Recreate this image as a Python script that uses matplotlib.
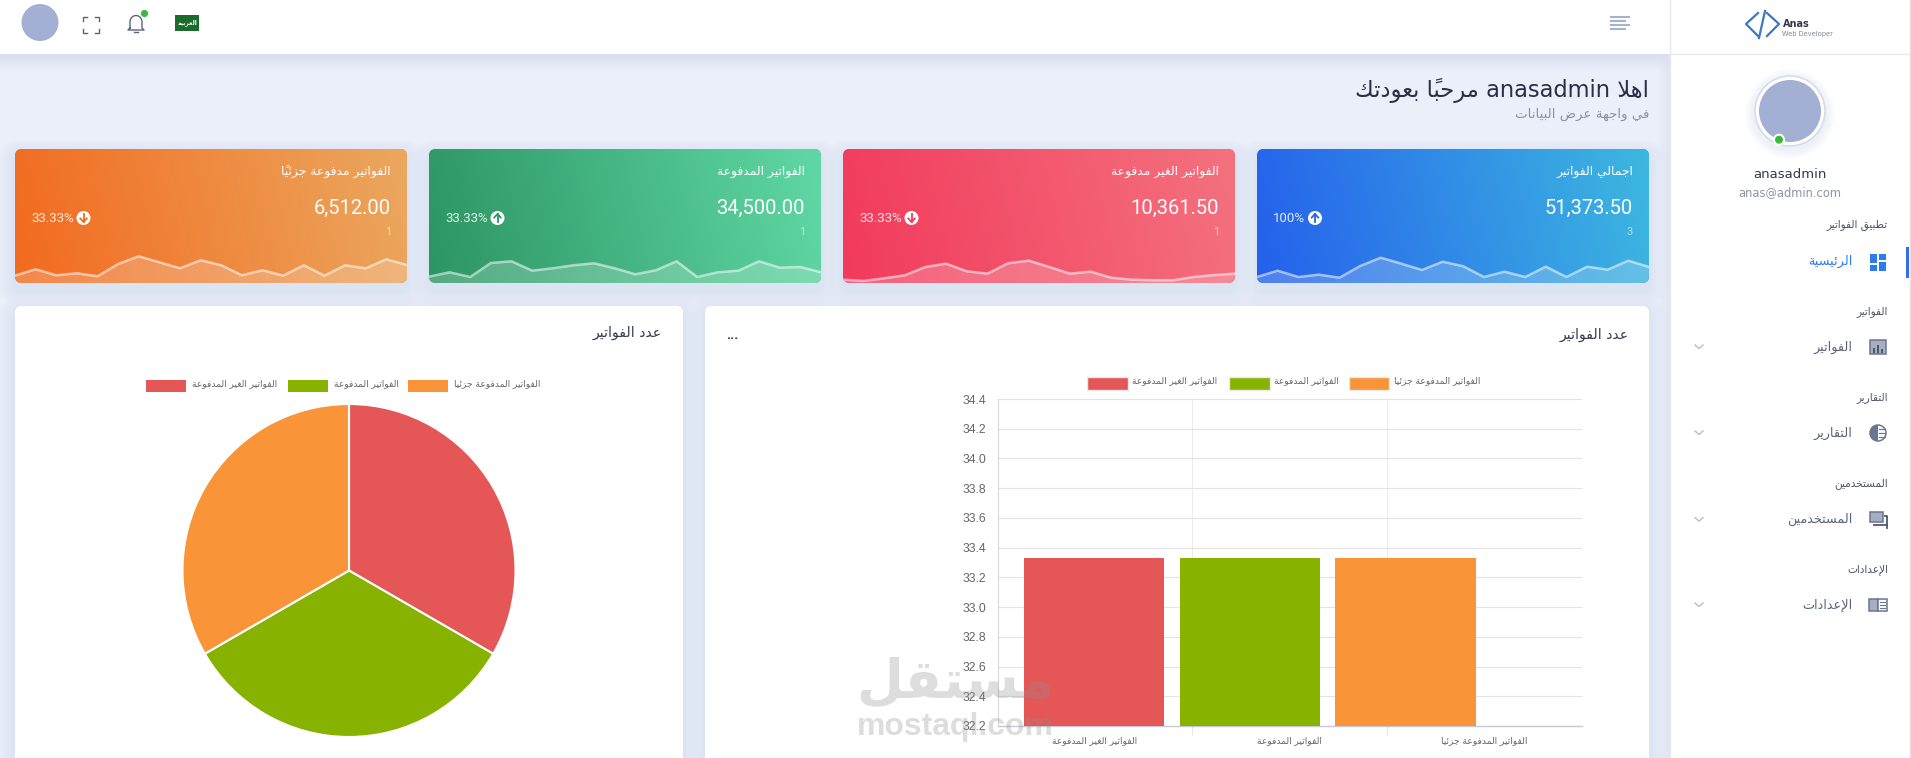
import re
import numpy as np
import matplotlib
matplotlib.use("Agg")
import matplotlib.pyplot as plt
from matplotlib.patches import FancyBboxPatch, Circle, Rectangle, Wedge
from matplotlib.colors import to_rgb

W, H = 1911, 758

# chart data
categories = ["الفواتير الغير المدفوعة", "الفواتير المدفوعة", "الفواتير المدفوعة جزئيا"]
bar_values = [33.33, 33.33, 33.33]
pie_values = [33.33, 33.33, 33.33]
chart_colors = ["#e55757", "#87b300", "#f99538"]
y_ticks = [32.2, 32.4, 32.6, 32.8, 33.0, 33.2, 33.4, 33.6, 33.8, 34.0, 34.2, 34.4]

# summary cards, right to left on the page
card_titles = ["اجمالي الفواتير", "الفواتير الغير مدفوعة", "الفواتير المدفوعة", "الفواتير مدفوعة جزئياً"]
card_amounts = ["51,373.50", "10,361.50", "34,500.00", "6,512.00"]
card_counts = ["3", "1", "1", "1"]
card_percents = ["100%", "33.33%", "33.33%", "33.33%"]
card_up = [True, False, True, False]
spark_blue = [6, 12.3, 6, 8.3, 5.3, 17, 25.3, 19.3, 13, 21.3, 16.7, 6, 11.3, 6, 16.3, 6, 16.3, 13.3, 22.3, 16]
spark_red = [3.3, 2, 4.7, 7.7, 16, 19.3, 11.7, 9.3, 19.7, 22.3, 16, 9.3, 11.3, 5.3, 3.3, 2.7, 2.7, 6, 8, 9.3]
spark_green = [6.3, 10.7, 6, 20, 21.7, 12.3, 14.7, 17.7, 19.7, 14.7, 8.7, 12.7, 21.7, 6, 10.7, 12.3, 21.7, 15.3, 16, 10.7]
spark_orange = [7.3, 13.7, 7.7, 9.7, 6.7, 19, 26.7, 20.7, 14.7, 22.7, 17.7, 7.7, 12.7, 7.3, 17.7, 7.3, 17.7, 14.7, 23.7, 18]
card_sparks = [spark_blue, spark_red, spark_green, spark_orange]

menu_sections = ["تطبيق الفواتير", "الفواتير", "التقارير", "المستخدمين", "الإعدادات"]
menu_items = ["الرئيسية", "الفواتير", "التقارير", "المستخدمين", "الإعدادات"]

# matplotlib does no arabic shaping, so pick the presentation forms by hand
FORMS = {"ء": (0xFE80, 1), "آ": (0xFE81, 2), "أ": (0xFE83, 2), "ؤ": (0xFE85, 2), "إ": (0xFE87, 2),
         "ئ": (0xFE89, 4), "ا": (0xFE8D, 2), "ب": (0xFE8F, 4), "ة": (0xFE93, 2), "ت": (0xFE95, 4),
         "ث": (0xFE99, 4), "ج": (0xFE9D, 4), "ح": (0xFEA1, 4), "خ": (0xFEA5, 4), "د": (0xFEA9, 2),
         "ذ": (0xFEAB, 2), "ر": (0xFEAD, 2), "ز": (0xFEAF, 2), "س": (0xFEB1, 4), "ش": (0xFEB5, 4),
         "ص": (0xFEB9, 4), "ض": (0xFEBD, 4), "ط": (0xFEC1, 4), "ظ": (0xFEC5, 4), "ع": (0xFEC9, 4),
         "غ": (0xFECD, 4), "ف": (0xFED1, 4), "ق": (0xFED5, 4), "ك": (0xFED9, 4), "ل": (0xFEDD, 4),
         "م": (0xFEE1, 4), "ن": (0xFEE5, 4), "ه": (0xFEE9, 4), "و": (0xFEED, 2), "ى": (0xFEEF, 2),
         "ي": (0xFEF1, 4)}
LAM_ALEF = {"ا": 0xFEFB, "أ": 0xFEF7, "إ": 0xFEF9, "آ": 0xFEF5}
MARKS = "\u064b\u064c\u064d\u064e\u064f\u0650\u0651\u0652"


def ar(text):
    # group base letters with their marks
    clusters = []
    for ch in text:
        if ch in MARKS and clusters:
            clusters[-1][1] += ch
        else:
            clusters.append([ch, ""])
    out = []
    i = 0
    joined_prev = False
    while i < len(clusters):
        ch, marks = clusters[i]
        nxt = clusters[i + 1][0] if i + 1 < len(clusters) else ""
        if ch not in FORMS:
            out.append(ch + marks)
            joined_prev = False
            i += 1
            continue
        if ch == "ل" and nxt in LAM_ALEF:
            code = LAM_ALEF[nxt] + (1 if joined_prev else 0)
            out.append(chr(code) + clusters[i + 1][1])
            joined_prev = False
            i += 2
            continue
        base, n = FORMS[ch]
        joins_next = n == 4 and nxt in FORMS
        if n == 1:
            code = base
        elif n == 2:
            code = base + (1 if joined_prev else 0)
        elif joined_prev and joins_next:
            code = base + 3
        elif joins_next:
            code = base + 2
        elif joined_prev:
            code = base + 1
        else:
            code = base
        out.append(chr(code) + marks)
        joined_prev = n == 4
        i += 1
    # visual order, latin runs keep their direction
    res = []
    run = []
    for c in out[::-1]:
        if re.match(r"[A-Za-z0-9@.]", c):
            run.append(c)
        else:
            res.extend(run[::-1])
            run = []
            res.append(c)
    res.extend(run[::-1])
    return "".join(res)


def px_axes(x0, y0, x1, y1, **kw):
    return fig.add_axes([x0 / W, 1 - y1 / H, (x1 - x0) / W, (y1 - y0) / H], **kw)


def rbox(ax, x0, y0, x1, y1, r, **kw):
    p = FancyBboxPatch((x0, y0), x1 - x0, y1 - y0, boxstyle=f"round,pad=0,rounding_size={r}", linewidth=0, **kw)
    ax.add_patch(p)
    return p


def shadow(ax, x0, y0, x1, y1, r, spread=16, dy=7, alpha=0.008):
    for s in range(spread, 0, -2):
        rbox(ax, x0 - s, y0 - s + dy, x1 + s, y1 + s + dy, r + s, facecolor="#5a6a9c", alpha=alpha, zorder=1)


def gradient(ax, x0, y0, x1, y1, left, right, clip):
    xx, yy = np.meshgrid(np.linspace(0, 1, 200), np.linspace(0, 1, 60))
    t = (0.93 * xx + 0.07 * (1 - yy))[..., None]
    img = np.array(to_rgb(left)) * (1 - t) + np.array(to_rgb(right)) * t
    im = ax.imshow(img, extent=(x0, x1, y1, y0), aspect="auto", zorder=2)
    im.set_clip_path(clip)


def atext(ax, x, y, s, size, color, ha="right", bold=False, **kw):
    ax.text(x, y, ar(s), fontsize=size, color=color, ha=ha, va="center", family="DejaVu Sans",
            fontweight="bold" if bold else "normal", **kw)


def ltext(ax, x, y, s, size, color, ha="right", family="Roboto", **kw):
    ax.text(x, y, s, fontsize=size, color=color, ha=ha, va="center", family=family, **kw)


fig = plt.figure(figsize=(W / 100, H / 100), dpi=100, facecolor="#ebeffa")

bg = px_axes(0, 0, W, H, zorder=0)
bg.set_xlim(0, W)
bg.set_ylim(H, 0)
bg.axis("off")

# top bar shadow and side bar shadow
for k in range(16):
    bg.add_patch(Rectangle((0, 54 + k), 1670, 1, color="#d9deee", alpha=1 - k / 16, lw=0, zorder=0.5))
for k in range(12):
    bg.add_patch(Rectangle((1670 - k - 1, 54), 1, H - 54, color="#dde2f0", alpha=0.8 * (1 - k / 12), lw=0, zorder=0.5))

bg.add_patch(Rectangle((0, 0), 1670, 54, color="white", lw=0, zorder=3))
bg.add_patch(Rectangle((1670, 0), W - 1670, H, color="white", lw=0, zorder=3))
bg.plot([1670, 1670], [0, H], color="#e8eaf3", lw=1, zorder=4)
bg.plot([1670, W], [54, 54], color="#e8eaf3", lw=1, zorder=4)
bg.plot([1910, 1910], [0, H], color="#e2e2e2", lw=1, zorder=4)

# top bar icons
bg.add_patch(Circle((40, 22.5), 18.5, color="#a3b0d3", lw=0, zorder=5))
fx, fy, fs = 90.5, 24.5, 8
for sx, sy in [(-1, -1), (1, -1), (1, 1), (-1, 1)]:
    bg.plot([fx + sx * fs, fx + sx * fs, fx + sx * (fs - 4)], [fy + sy * (fs - 4), fy + sy * fs, fy + sy * fs],
            color="#5a6580", lw=1.0, zorder=5)
th = np.linspace(np.pi, 2 * np.pi, 20)
bell_x = [130] + list(136 + 6 * np.cos(th)) + [142, 144, 128, 130]
bell_y = [28] + list(22 + 6.5 * np.sin(th)) + [28, 30, 30, 28]
bg.plot(bell_x, bell_y, color="#5a6580", lw=1.0, zorder=5)
bg.plot([134, 138], [32, 32], color="#5a6580", lw=1.0, zorder=5)
bg.add_patch(Circle((144.5, 13.5), 3.6, color="#3cb93c", lw=0, zorder=6))
bg.add_patch(Rectangle((175, 15), 24, 16, color="#1b6b2c", lw=0, zorder=5))
atext(bg, 187, 23, "العربية", 4.3, "white", ha="center", bold=True, zorder=6)
for yy, x_to in zip([16.7, 20.7, 24.7, 28.7], [1630, 1626, 1630, 1626]):
    bg.plot([1610, x_to], [yy, yy], color="#a8b2cc", lw=1.5, solid_capstyle="butt", zorder=5)

# page heading
atext(bg, 1649, 91, "اهلا anasadmin مرحباً بعودتك", 16.3, "#2b2f45", zorder=5)
atext(bg, 1649, 114, "في واجهة عرض البيانات", 9.6, "#8a90a5", zorder=5)

# summary cards
card_x = [1257, 843, 429, 15]
card_w = 392
card_top, card_bottom = 149, 283
card_grad = [("#2560ec", "#3db8e0"), ("#f23a5c", "#f4727f"), ("#2c9563", "#60d8a5"), ("#f26a1f", "#eba85f")]
for i in range(4):
    x0 = card_x[i]
    x1 = x0 + card_w
    shadow(bg, x0, card_top, x1, card_bottom, 6)
    clip = rbox(bg, x0, card_top, x1, card_bottom, 7, facecolor=card_grad[i][0], zorder=2)
    gradient(bg, x0, card_top, x1, card_bottom, card_grad[i][0], card_grad[i][1], clip)
    atext(bg, x1 - 16, 172, card_titles[i], 8.9, "white", zorder=5)
    ltext(bg, x1 - 16, 208, card_amounts[i], 14.5, "white", zorder=5)
    ltext(bg, x1 - 16, 232, card_counts[i], 8, "white", alpha=0.6, zorder=5)
    ltext(bg, x0 + 16, 218, card_percents[i], 9.5, "white", ha="left", alpha=0.85, zorder=5)
    pct_w = 43 if i else 32.5
    cx = x0 + 16 + pct_w + 9.5
    bg.add_patch(Circle((cx, 218), 7, color="white", lw=0, zorder=5))
    d = -1 if card_up[i] else 1
    bg.plot([cx, cx], [218 - 4, 218 + 4], color=card_grad[i][0], lw=1.3, zorder=6)
    bg.plot([cx - 3.2, cx, cx + 3.2], [218 + d * 0.5, 218 + d * 4, 218 + d * 0.5], color=card_grad[i][0], lw=1.3, zorder=6)

    sp = px_axes(x0, card_bottom - 32, x1, card_bottom, zorder=2)
    sp.patch.set_alpha(0)
    sp.axis("off")
    sp.set_xlim(0, len(card_sparks[i]) - 1)
    sp.set_ylim(0, 32)
    idx = np.arange(len(card_sparks[i]))
    area = sp.fill_between(idx, card_sparks[i], 0, color="white", alpha=0.2, lw=0)
    line, = sp.plot(idx, card_sparks[i], color="white", alpha=0.55, lw=1.8)
    area.set_clip_path(clip)
    line.set_clip_path(clip)

# chart panels
for x0, x1 in [(15, 683), (705, 1649)]:
    shadow(bg, x0, 306, x1, 775, 6)
    rbox(bg, x0, 306, x1, 775, 7, facecolor="white", zorder=2)
atext(bg, 662, 333, "عدد الفواتير", 10.1, "#33384f", zorder=5)
atext(bg, 1629, 335, "عدد الفواتير", 10.1, "#33384f", zorder=5)
ltext(bg, 732, 335, "...", 10, "#33384f", ha="center", fontweight="bold", zorder=5)

# legends
bar_legend = [(1087, 1127.5, 1132), (1228.5, 1269.5, 1274), (1348.5, 1389, 1394)]
for i, (s0, s1, tx) in enumerate(bar_legend):
    bg.add_patch(Rectangle((s0, 377), s1 - s0, 12.5, facecolor=chart_colors[i], edgecolor="#e9e9e9", lw=1, zorder=5))
    atext(bg, tx, 381, categories[i], 6.6, "#666666", ha="left", zorder=5)
pie_legend = [(146, 186, 191.5), (288, 328, 333.5), (407.5, 448, 453.5)]
for i, (s0, s1, tx) in enumerate(pie_legend):
    bg.add_patch(Rectangle((s0, 380), s1 - s0, 12, facecolor=chart_colors[i], lw=0, zorder=5))
    atext(bg, tx, 384, categories[i], 6.6, "#666666", ha="left", zorder=5)

# bar chart
ax_bar = px_axes(997.6, 399, 1581.8, 726, zorder=2)
ax_bar.patch.set_alpha(0)
bar_start, bar_step, bar_width = 0.495, 0.80, 0.72
bar_x = [bar_start + bar_step * i for i in range(len(bar_values))]
ax_bar.bar(bar_x, bar_values, width=bar_width, color=chart_colors, zorder=3)
ax_bar.set_xlim(0, 3)
ax_bar.set_ylim(y_ticks[0], y_ticks[-1])
ax_bar.set_yticks(y_ticks)
ax_bar.set_yticklabels([f"{v:.1f}" for v in y_ticks], family="Liberation Sans", fontsize=8.7, color="#666666")
ax_bar.set_xticks([0.5, 1.5, 2.5])
ax_bar.set_xticklabels([ar(c) for c in categories], family="DejaVu Sans", fontsize=6.6, color="#666666")
ax_bar.set_xticks([1, 2], minor=True)
ax_bar.tick_params(axis="y", length=0, pad=8)
ax_bar.tick_params(axis="x", which="major", length=0, pad=7)
ax_bar.tick_params(axis="x", which="minor", length=6.5, color="#e8e8e8", width=0.8)
ax_bar.grid(axis="y", color="#e3e3e3", lw=0.8, zorder=0)
ax_bar.grid(axis="x", which="minor", color="#ececec", lw=0.7, zorder=0)
ax_bar.set_axisbelow(True)
ax_bar.spines["top"].set_visible(False)
ax_bar.spines["right"].set_visible(False)
ax_bar.spines["left"].set_color("#d8d8d8")
ax_bar.spines["bottom"].set_color("#c8c8d6")
ax_bar.spines["bottom"].set_linewidth(1.0)

# pie chart
ax_pie = px_axes(349 - 166.5, 570.5 - 166.5, 349 + 166.5, 570.5 + 166.5, zorder=2)
ax_pie.pie(pie_values, colors=chart_colors, startangle=90, counterclock=False, radius=1,
           wedgeprops={"edgecolor": "white", "linewidth": 1.5})
ax_pie.set_xlim(-1, 1)
ax_pie.set_ylim(-1, 1)

# side bar
bg.plot([1758, 1746, 1758], [13, 24, 36], color="#3b78c4", lw=1.6, zorder=5)
bg.plot([1767, 1779, 1767], [13, 24, 36], color="#3b78c4", lw=1.6, zorder=5)
bg.plot([1765, 1759], [11, 38], color="#3b78c4", lw=1.6, zorder=5)
ltext(bg, 1782.5, 24, "Anas", 7, "#333a4d", ha="left", family="DejaVu Sans", fontweight="bold", zorder=5)
ltext(bg, 1782.5, 33.8, "Web Developer", 4.8, "#7f8798", ha="left", family="DejaVu Sans", zorder=5)

for s in range(10, 0, -2):
    bg.add_patch(Circle((1790, 114), 35 + s, color="#5a6a9c", alpha=0.018, lw=0, zorder=4))
bg.add_patch(Circle((1790, 111), 35, facecolor="white", edgecolor="#d6dcec", lw=1.2, zorder=5))
bg.add_patch(Circle((1790, 111), 31, color="#a3b0d3", lw=0, zorder=6))
bg.add_patch(Circle((1779, 139.7), 6, color="white", lw=0, zorder=7))
bg.add_patch(Circle((1779, 139.7), 4, color="#3cb93c", lw=0, zorder=8))
ltext(bg, 1790, 175, "anasadmin", 9.5, "#33384f", ha="center", family="DejaVu Sans", zorder=5)
ltext(bg, 1790, 193, "anas@admin.com", 8.3, "#8b93a7", ha="center", family="DejaVu Sans", zorder=5)

section_y = [225.7, 312, 398, 484, 570]
item_y = [261.5, 347, 433, 519.6, 605]
for i in range(5):
    atext(bg, 1888, section_y[i], menu_sections[i], 7.6, "#4d5568", zorder=5)
    active = i == 0
    atext(bg, 1852.7, item_y[i], menu_items[i], 9.2, "#2b7cf0" if active else "#5b647c", zorder=5)
    if not active:
        cy = item_y[i]
        bg.plot([1695, 1699, 1703], [cy - 2, cy + 1.5, cy - 2], color="#b8bdcb", lw=1, zorder=5)

bg.add_patch(Rectangle((1906, 247), 3, 31, color="#2f6fe8", lw=0, zorder=5))

# menu icons
c1 = "#2b7cf0"
c2 = "#6b7690"
ix = 1878
y0 = item_y[0]
for dx, dy, w, h in [(-8, -8, 7, 9), (1, -8, 7, 6), (-8, 3, 7, 6), (1, 0, 7, 9)]:
    bg.add_patch(Rectangle((ix + dx, y0 + dy), w, h, color=c1, lw=0, zorder=5))
y0 = item_y[1]
bg.add_patch(Rectangle((ix - 8, y0 - 7), 16, 14, facecolor="#a6aec2", edgecolor=c2, lw=1.1, zorder=5))
for dx, h in [(-4, 5), (0, 8), (4, 4)]:
    bg.add_patch(Rectangle((ix + dx - 0.8, y0 + 6 - h), 1.6, h, color="#4d5875", lw=0, zorder=6))
y0 = item_y[2]
bg.add_patch(Circle((ix, y0), 8, facecolor="white", edgecolor=c2, lw=1.1, zorder=5))
bg.add_patch(Wedge((ix, y0), 8, 90, 270, color=c2, lw=0, zorder=6))
for dy in [-4, 0, 4]:
    bg.plot([ix + 1, ix + 7], [y0 + dy, y0 + dy], color=c2, lw=0.9, zorder=6)
y0 = item_y[3]
bg.add_patch(Rectangle((ix - 8.5, y0 - 8), 13, 10, facecolor="#a6aec2", edgecolor=c2, lw=1.1, zorder=5))
bg.plot([ix + 7, ix + 9, ix + 9], [y0 - 4, y0 - 4, y0 + 8], color="#4d5875", lw=1.3, zorder=5)
bg.plot([ix - 4, ix + 9], [y0 + 5, y0 + 5], color="#4d5875", lw=1.3, zorder=5)
y0 = item_y[4]
bg.add_patch(Rectangle((ix - 9, y0 - 6), 9, 12, facecolor="#a6aec2", edgecolor=c2, lw=1.1, zorder=5))
bg.add_patch(Rectangle((ix, y0 - 6), 9, 12, facecolor="white", edgecolor=c2, lw=1.1, zorder=5))
for dy in [-3, 0, 3]:
    bg.plot([ix + 2, ix + 7], [y0 + dy, y0 + dy], color=c2, lw=0.8, zorder=6)

# watermark goes over the charts, same as the reference
top = px_axes(0, 0, W, H, zorder=5)
top.patch.set_alpha(0)
top.set_xlim(0, W)
top.set_ylim(H, 0)
top.axis("off")
atext(top, 955, 682, "مستقل", 39, "#8f8f8f", ha="center", bold=True, alpha=0.3)
ltext(top, 955, 727, "mostaql.com", 23, "#8f8f8f", ha="center", family="Liberation Sans", fontweight="bold", alpha=0.3)

fig.savefig("out.png", dpi=100, facecolor=fig.get_facecolor())
